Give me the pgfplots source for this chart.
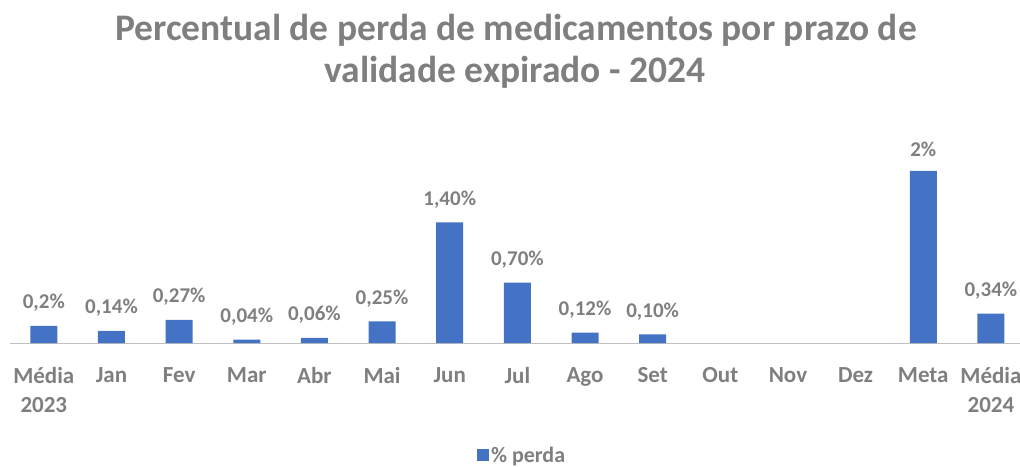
\documentclass[border=0pt]{standalone}
\usepackage{pgfplots}
\pgfplotsset{compat=1.18}
\usepackage{fontspec}
\setmainfont{Carlito}
\definecolor{barblue}{HTML}{4472C4}
\definecolor{txtgray}{HTML}{7F7F7F}
\definecolor{axgray}{HTML}{BFBFBF}
\begin{document}
\begin{tikzpicture}[x=1pt,y=1pt]
\useasboundingbox (0,0) rectangle (1020,466);
\node[text=txtgray,font=\bfseries\fontsize{37.5}{40}\selectfont] at (516,436) {Percentual de perda de medicamentos por prazo de};
\node[text=txtgray,font=\bfseries\fontsize{37.5}{40}\selectfont] at (515,394) {validade expirado - 2024};
\begin{axis}[
  at={(10pt,123pt)}, anchor=south west,
  scale only axis, width=1010pt, height=198pt,
  xmin=-0.5, xmax=14.43, ymin=0, ymax=2.3,
  hide y axis,
  axis x line*=bottom,
  x axis line style={draw=axgray, line width=1pt},
  xtick={0,...,14},
  xticklabels={M\'edia\\2023,Jan,Fev,Mar,Abr,Mai,Jun,Jul,Ago,Set,Out,Nov,Dez,Meta,M\'edia\\2024},
  xticklabel style={align=center, text=txtgray, font=\bfseries\fontsize{23}{29}\selectfont, anchor=north, yshift=-17pt},
  major x tick style={draw=none},
  extra x ticks={-0.5,0.5,1.5,2.5,3.5,4.5,5.5,6.5,7.5,8.5,9.5,10.5,11.5,12.5,13.5},
  extra x tick labels={},
  extra x tick style={tick align=outside, major tick length=6pt, tick style={draw=axgray, line width=1pt}},
  ybar, bar width=27pt,
  nodes near coords,
  point meta=explicit symbolic,
  every node near coord/.append style={text=txtgray, font=\bfseries\fontsize{21}{24}\selectfont, anchor=south, yshift=11pt},
  legend style={at={(0.507,-0.566)}, anchor=center, draw=none, fill=none, font=\bfseries\fontsize{22}{24}\selectfont, text=txtgray},
  legend image code/.code={\fill[barblue] (-4pt,-6pt) rectangle (8pt,6pt);},
  clip=false,
]
\addplot[fill=barblue, draw=none] coordinates {
 (0,0.2) [0,2\%]
 (1,0.14) [0,14\%]
 (2,0.27) [0,27\%]
 (3,0.04) [0,04\%]
 (4,0.06) [0,06\%]
 (5,0.25) [0,25\%]
 (6,1.40) [1,40\%]
 (7,0.70) [0,70\%]
 (8,0.12) [0,12\%]
 (9,0.10) [0,10\%]
 (13,2.0) [2\%]
 (14,0.34) [0,34\%]
};
\addlegendentry{\% perda}
\end{axis}
\end{tikzpicture}
\end{document}
